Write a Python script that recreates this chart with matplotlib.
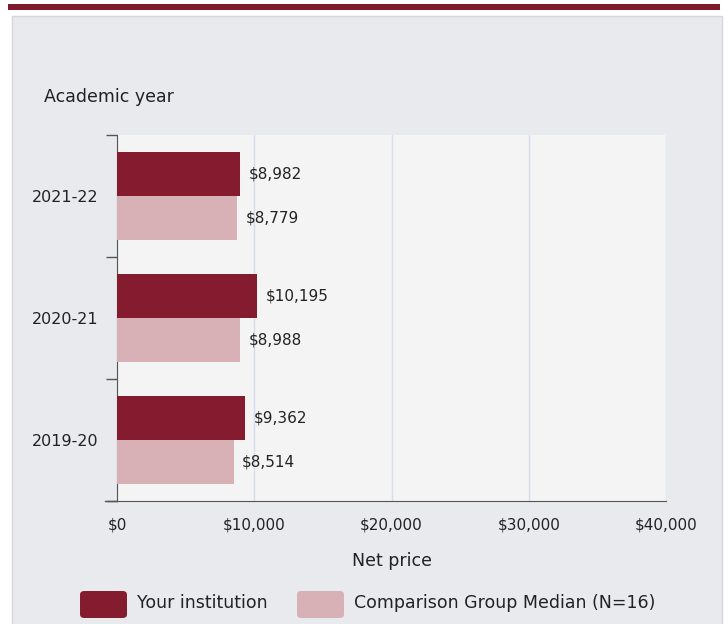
import matplotlib
matplotlib.use("Agg")
import matplotlib.pyplot as plt
import numpy as np
from matplotlib.patches import Rectangle, FancyBboxPatch
from matplotlib.lines import Line2D

# Dados do gráfico (de cima para baixo)
anos = ["2021-22", "2020-21", "2019-20"]
sua_instituicao = [8982, 10195, 9362]
mediana_grupo = [8779, 8988, 8514]
rotulos_x = ["$0", "$10,000", "$20,000", "$30,000", "$40,000"]
valores_x = [0, 10000, 20000, 30000, 40000]

COR_ESCURA = "#851b2e"
COR_CLARA = "#d8b1b7"
FUNDO_PAINEL = "#e8eaee"
FUNDO_PLOT = "#f4f4f4"
COR_TEXTO = "#222222"

plt.rcParams["font.family"] = ["DejaVu Sans"]
W, H = 728, 624
fig = plt.figure(figsize=(W / 100, H / 100), dpi=100)
fig.patch.set_facecolor("white")


def fx(px):
    return px / W


def fy(py):
    return 1 - py / H


# faixa vermelha no topo e painel cinza (atrás dos eixos)
fig.patches.append(Rectangle((fx(8), fy(10)), fx(712), 6 / H, transform=fig.transFigure,
                             facecolor="#7e1a2b", edgecolor="none", zorder=-2))
fig.patches.append(Rectangle((fx(12), fy(630)), fx(710), 614 / H, transform=fig.transFigure,
                             facecolor=FUNDO_PAINEL, edgecolor="#d4d6da", linewidth=1, zorder=-2))

ax = fig.add_axes([fx(117), fy(501), fx(666 - 117), (501 - 135) / H])
ax.set_facecolor(FUNDO_PLOT)

y = np.arange(len(anos))
altura = 0.36
ax.barh(y - altura / 2, sua_instituicao, height=altura, color=COR_ESCURA, zorder=3)
ax.barh(y + altura / 2, mediana_grupo, height=altura, color=COR_CLARA, zorder=3)

for yi, v in zip(y - altura / 2, sua_instituicao):
    ax.annotate(f"${v:,}", (v, yi), xytext=(6, 0), textcoords="offset points",
                va="center", ha="left", fontsize=11, color=COR_TEXTO)
for yi, v in zip(y + altura / 2, mediana_grupo):
    ax.annotate(f"${v:,}", (v, yi), xytext=(6, 0), textcoords="offset points",
                va="center", ha="left", fontsize=11, color=COR_TEXTO)

ax.set_xlim(0, 40000)
ax.set_ylim(len(anos) - 0.5, -0.5)

ax.set_xticks(valores_x)
ax.set_xticklabels(rotulos_x, fontsize=11, color=COR_TEXTO)
ax.tick_params(axis="x", length=0, pad=12)
ax.xaxis.grid(True, color="#d6ddee", linewidth=1, zorder=0)
ax.set_axisbelow(True)

ax.set_yticks(np.arange(len(anos) + 1) - 0.5)
ax.set_yticklabels([])
ax.set_yticks(y, minor=True)
ax.set_yticklabels(anos, minor=True, fontsize=11.5, color=COR_TEXTO)
ax.tick_params(axis="y", which="major", length=8, color="#555555", width=1)
ax.tick_params(axis="y", which="minor", length=0, pad=13)

for lado in ["top", "right"]:
    ax.spines[lado].set_visible(False)
ax.spines["left"].set_color("#555555")
ax.spines["bottom"].set_color("#555555")

# extensão da linha de base para a esquerda
fig.lines.append(Line2D([fx(105), fx(117)], [fy(501), fy(501)], transform=fig.transFigure,
                        color="#555555", linewidth=1))

ax.set_xlabel("Net price", fontsize=12.5, color=COR_TEXTO, labelpad=14)
fig.text(fx(44), fy(97), "Academic year", fontsize=12.5, color=COR_TEXTO, va="center")

# legenda
for x0, cor, texto in [(80, COR_ESCURA, "Your institution"),
                       (297, COR_CLARA, "Comparison Group Median (N=16)")]:
    fig.patches.append(FancyBboxPatch((fx(x0), fy(618)), fx(47), 27 / H,
                                      boxstyle="round,pad=0,rounding_size=0.006",
                                      transform=fig.transFigure, facecolor=cor, edgecolor="none"))
    fig.text(fx(x0 + 57), fy(603), texto, fontsize=12.5, color=COR_TEXTO, va="center")

fig.savefig("out.png", dpi=100, facecolor=fig.get_facecolor())
